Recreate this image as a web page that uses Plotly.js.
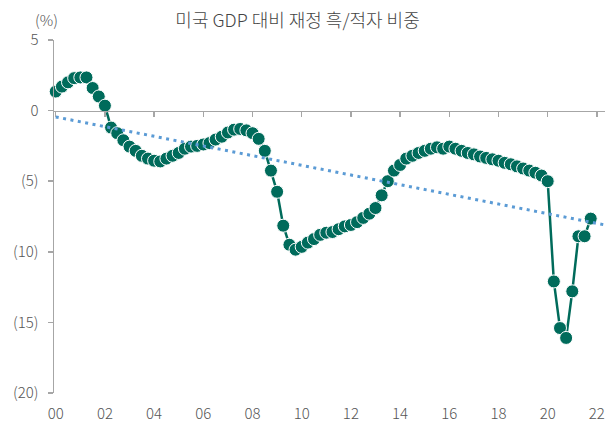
<!DOCTYPE html>
<html>
<head>
<meta charset="utf-8">
<script src="https://cdn.plot.ly/plotly-3.0.1.min.js"></script>
<style>html,body{margin:0;padding:0;background:#fff;}</style>
</head>
<body>
<div id="chart" style="width:611px;height:423px;"></div>
<script>
// Quarterly periods 2000Q1 .. 2021Q4 (as decimal years)
const years = [2000, 2001, 2002, 2003, 2004, 2005, 2006, 2007, 2008, 2009, 2010,
               2011, 2012, 2013, 2014, 2015, 2016, 2017, 2018, 2019, 2020, 2021];
const quarterOffsets = [0, 0.25, 0.5, 0.75];

// US fiscal balance as % of GDP (quarterly)
const balance = [
  1.35, 1.7, 2.0, 2.3,        // 2000
  2.35, 2.35, 1.6, 1.0,       // 2001
  0.35, -1.2, -1.6, -2.1,     // 2002
  -2.55, -2.85, -3.2, -3.4,   // 2003
  -3.55, -3.6, -3.4, -3.2,    // 2004
  -3.0, -2.7, -2.55, -2.5,    // 2005
  -2.4, -2.3, -2.05, -1.85,   // 2006
  -1.55, -1.35, -1.3, -1.4,   // 2007
  -1.6, -2.0, -2.85, -4.25,   // 2008
  -5.75, -8.15, -9.5, -9.85,  // 2009
  -9.65, -9.35, -9.1, -8.8,   // 2010
  -8.65, -8.6, -8.4, -8.2,    // 2011
  -8.1, -7.9, -7.6, -7.3,     // 2012
  -6.9, -6.0, -5.0, -4.25,    // 2013
  -3.85, -3.4, -3.2, -3.0,    // 2014
  -2.85, -2.7, -2.6, -2.7,    // 2015
  -2.55, -2.7, -2.85, -3.0,   // 2016
  -3.1, -3.25, -3.35, -3.45,  // 2017
  -3.55, -3.7, -3.8, -3.95,   // 2018
  -4.1, -4.25, -4.4, -4.6,    // 2019
  -5.0, -12.1, -15.4, -16.1,  // 2020
  -12.8, -8.9, -8.9, -7.65    // 2021
];

// Linear trend line endpoints
const trendX = [2000, 2022.33];
const trendY = [-0.45, -8.1];

// Axis ticks
const xTickVals = [2000, 2002, 2004, 2006, 2008, 2010, 2012, 2014, 2016, 2018, 2020, 2022];
const xTickText = ['00', '02', '04', '06', '08', '10', '12', '14', '16', '18', '20', '22'];
const yTickVals = [5, 0, -5, -10, -15, -20];
const yTickText = ['5', '0', '(5)', '(10)', '(15)', '(20)'];

const periods = [];
years.forEach(y => quarterOffsets.forEach(q => periods.push(y + q)));

const FONT = '"Noto Sans CJK KR", "Noto Sans", sans-serif';
const AXIS_COLOR = '#a6a6a6';
const TEXT_COLOR = '#555555';
const xRange = [1999.93, 2022.33];

const traces = [
  {
    x: periods, y: balance, xaxis: 'x', yaxis: 'y',
    type: 'scatter', mode: 'lines+markers',
    line: {color: '#006B5B', width: 2.5},
    marker: {color: '#006B5B', size: 13, line: {color: '#ffffff', width: 1}},
    cliponaxis: false,
    showlegend: false, hoverinfo: 'skip'
  },
  {
    x: trendX, y: trendY, xaxis: 'x2', yaxis: 'y',
    type: 'scatter', mode: 'lines',
    line: {color: '#5B9BD5', width: 3, dash: '3px,4.5px'},
    showlegend: false, hoverinfo: 'skip'
  }
];

const layout = {
  width: 611, height: 423,
  margin: {l: 54, r: 6, t: 40, b: 30},
  paper_bgcolor: '#ffffff', plot_bgcolor: '#ffffff',
  font: {family: FONT, color: TEXT_COLOR, size: 15, weight: 300},
  title: {
    text: '미국 GDP 대비 재정 흑/적자 비중',
    xref: 'container', x: 0.487, xanchor: 'center',
    yref: 'container', y: 0.951, yanchor: 'middle',
    font: {family: FONT, size: 18, color: '#444444', weight: 300}
  },
  xaxis: {
    range: xRange, tickvals: xTickVals, ticktext: xTickText,
    showline: false, showgrid: false, zeroline: false,
    ticks: 'outside', ticklen: 7, tickcolor: 'rgba(0,0,0,0)',
    tickfont: {family: FONT, size: 15, color: TEXT_COLOR, weight: 300}
  },
  xaxis2: {
    range: xRange, overlaying: 'x', anchor: 'free', position: 0.8, side: 'bottom',
    tickvals: xTickVals, showticklabels: false,
    showline: true, linecolor: AXIS_COLOR, linewidth: 1.5,
    ticks: 'outside', ticklen: 5, tickcolor: AXIS_COLOR, tickwidth: 1.5,
    showgrid: false, zeroline: false
  },
  yaxis: {
    range: [-20, 5], tickvals: yTickVals, ticktext: yTickText,
    showline: true, linecolor: AXIS_COLOR, linewidth: 1.5,
    ticks: 'outside', ticklen: 5, tickcolor: AXIS_COLOR, tickwidth: 1.5,
    ticklabelstandoff: 6,
    showgrid: false, zeroline: false,
    tickfont: {family: FONT, size: 15, color: TEXT_COLOR, weight: 300}
  },
  annotations: [{
    text: '(%)', xref: 'paper', yref: 'paper',
    x: -0.013, y: 1.057, xanchor: 'center', yanchor: 'middle',
    showarrow: false, font: {family: FONT, size: 15, color: TEXT_COLOR, weight: 300}
  }]
};

Plotly.newPlot('chart', traces, layout, {displayModeBar: false, staticPlot: true});
</script>
</body>
</html>
